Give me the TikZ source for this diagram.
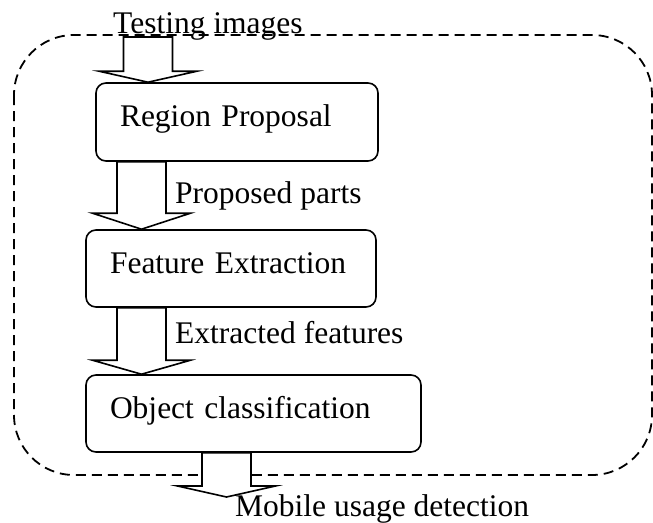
\documentclass[tikz,border=0pt]{standalone}
\usepackage{fontspec}
\setmainfont{Liberation Serif}
\usetikzlibrary{calc}

% block arrow from a start point down to a tip, #3 = head length
\newcommand{\fatArrow}[3]{%
    \draw[arrowStyle] ($(#1)+(-24.5,0)$) -- ($(#2)+(-24.5,-#3)$)
        -- ($(#2)+(-49,-#3)$) -- (#2) -- ($(#2)+(49,-#3)$)
        -- ($(#2)+(24.5,-#3)$) -- ($(#1)+(24.5,0)$) -- cycle;
}

\begin{document}
\begin{tikzpicture}[
    x=1pt, y=-1pt,
    % Define the style for the processing steps
    stepBox/.style={
        draw=black,
        line width=1.6pt,
        rounded corners=10pt,
        inner xsep=24pt,
        inner ysep=0pt,
        align=left,
        text height=22pt,
        text depth=13pt,
        font=\fontsize{31.5}{38}\selectfont
    },
    % Define the style for the texts along the flow
    flowLabel/.style={
        anchor=base west,
        inner sep=0pt,
        font=\fontsize{31.5}{38}\selectfont
    },
    % Define the style for the hollow arrows
    arrowStyle/.style={
        draw=black,
        fill=white,
        line width=1.6pt,
        line join=miter
    },
    % Define the style for the dashed frame
    frameStyle/.style={
        draw=black,
        line width=1.8pt,
        dash pattern=on 10pt off 6pt,
        rounded corners=60pt
    }
]
    \useasboundingbox (0,0) rectangle (653,522);

    % --- FRAME ---
    \draw[frameStyle] (14,35) rectangle (652,475);

    % --- NODES ---
    \node[stepBox, minimum width=282pt, minimum height=78pt, text width=234pt]
        (region) at (237,122) {Region Proposal};
    \node[stepBox, minimum width=290pt, minimum height=77pt, text width=242pt]
        (feature) at (231,268.5) {Feature Extraction};
    \node[stepBox, minimum width=335pt, minimum height=77pt, text width=287pt]
        (object) at (253.5,413.5) {Object classification};

    % --- LABELS ---
    \node[flowLabel] (testing) at (113,33) {Testing images};
    \node[flowLabel] (parts) at (175,203) {Proposed parts};
    \node[flowLabel] (features) at (175,343) {Extracted features};
    \node[flowLabel] (mobile) at (235,516) {Mobile usage detection};

    % --- ARROWS ---
    \coordinate (inStart) at (148,37);
    \coordinate (inTip) at (region.north -| inStart);
    \fatArrow{inStart}{inTip}{11}

    \coordinate (midX) at (141.5,0);
    \fatArrow{region.south -| midX}{feature.north -| midX}{16}
    \fatArrow{feature.south -| midX}{object.north -| midX}{14}

    \coordinate (outTip) at (226.5,497);
    \fatArrow{object.south -| outTip}{outTip}{11}

\end{tikzpicture}
\end{document}
